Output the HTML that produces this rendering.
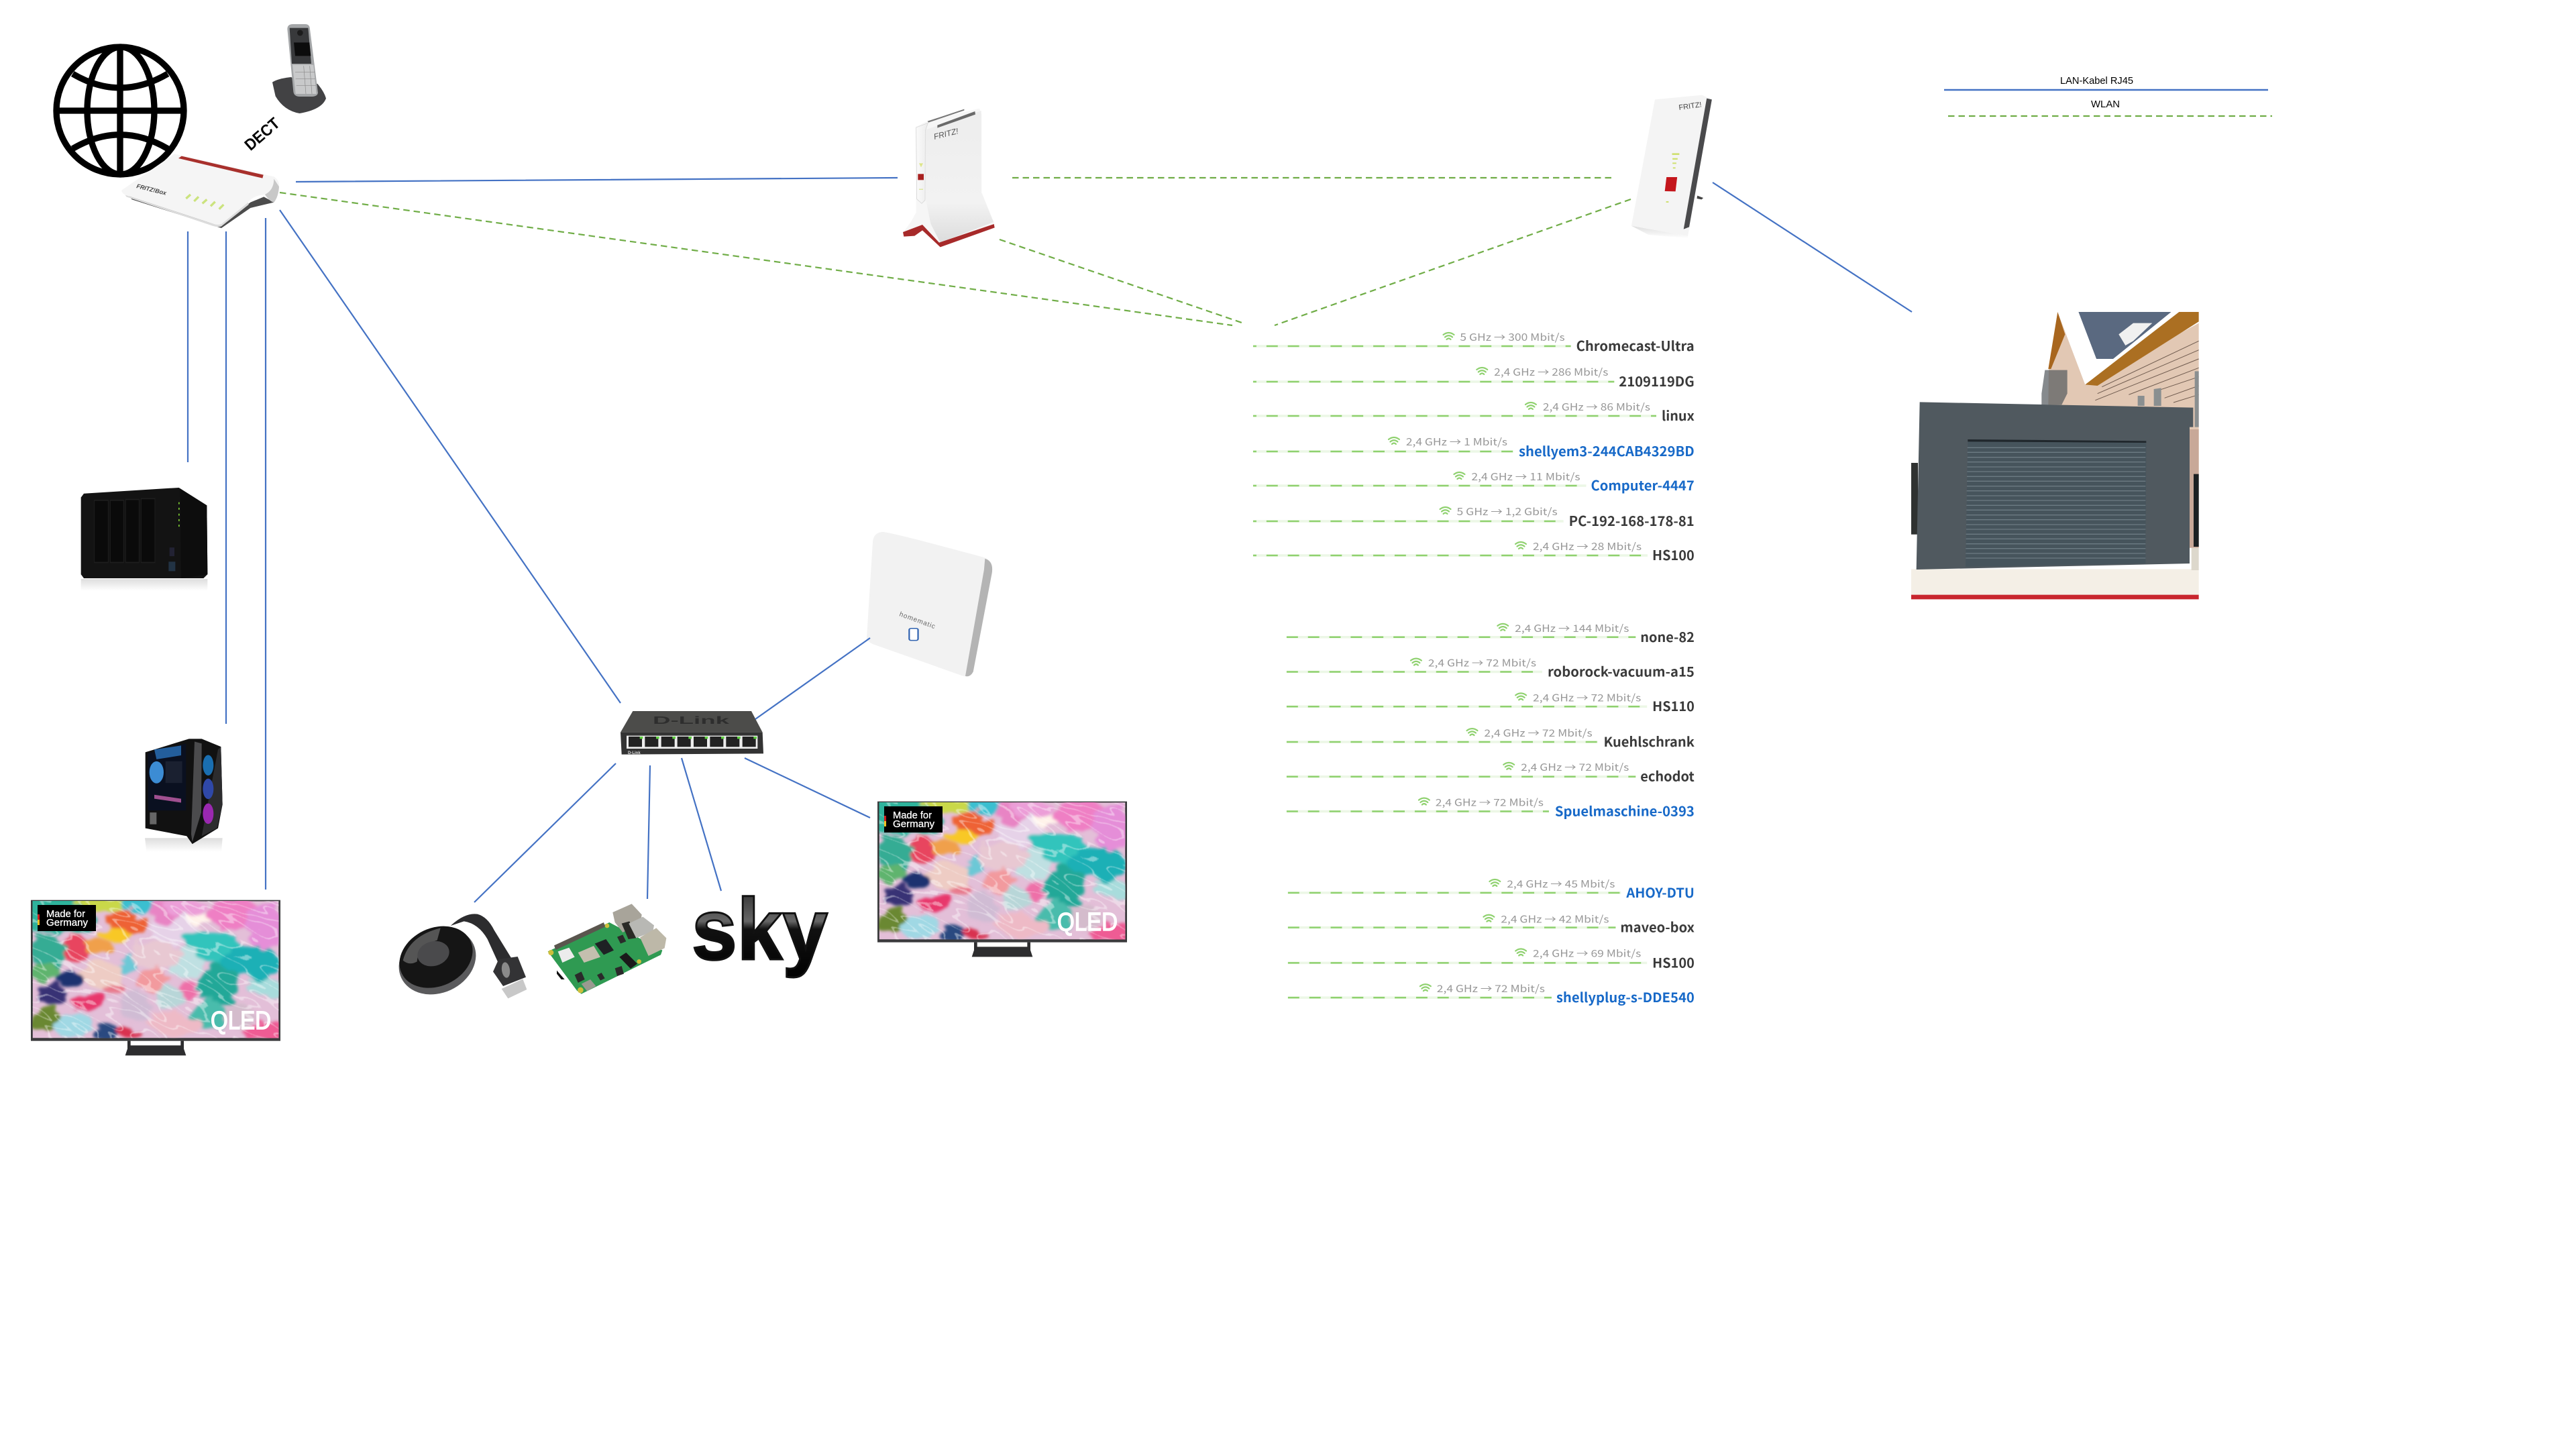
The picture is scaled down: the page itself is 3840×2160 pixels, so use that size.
<!DOCTYPE html>
<html lang="de"><head><meta charset="utf-8"><title>Netzwerk</title>
<style>
html,body{margin:0;padding:0;background:#fff}
svg{display:block}
.n{font-family:"Noto Sans CJK SC","Liberation Sans",sans-serif;font-size:20px;font-weight:700;fill:#3a3a3a}
.b{fill:#1769c8}
.l{font-family:"Noto Sans CJK SC","Liberation Sans",sans-serif;font-size:15px;fill:#989898}
.g1,.g2{fill:none;stroke:#8fd16f;stroke-width:2.5;stroke-dasharray:17 15}
.g1{stroke-dashoffset:12}
.p{stroke:#ecf7e6;stroke-width:3.5;fill:none}
.bl{stroke:#4472c4;stroke-width:2.2;fill:none}
.gr{stroke:#70ad47;stroke-width:2.2;fill:none;stroke-dasharray:9.5 6}
.w{fill:none;stroke:#8fd16f;stroke-width:2.2;stroke-linecap:round}
.s{font-family:"Liberation Sans",sans-serif}
</style></head><body>
<svg xmlns="http://www.w3.org/2000/svg" width="3840" height="2160" viewBox="0 0 3840 2160">
<defs>
<g id="w"><path class="w" d="M-8,-3Q0,-9 8,-3M-5.5,0.5Q0,-4 5.5,0.5M-3,4Q0,1 3,4"/></g>
<filter id="mar" x="-5%" y="-5%" width="110%" height="110%">
<feTurbulence type="fractalNoise" baseFrequency="0.012 0.022" numOctaves="2" seed="7" result="t"/>
<feDisplacementMap in="SourceGraphic" in2="t" scale="80" xChannelSelector="R" yChannelSelector="G"/>
<feGaussianBlur stdDeviation="6"/>
</filter>
<filter id="rip" x="0" y="0" width="100%" height="100%" color-interpolation-filters="sRGB">
<feTurbulence type="fractalNoise" baseFrequency="0.004 0.014" numOctaves="2" seed="11"/>
<feColorMatrix type="matrix" values="0 0 0 0 1  0 0 0 0 1  0 0 0 0 1  1 0 0 0 0"/>
<feComponentTransfer><feFuncA type="discrete" tableValues="0 0 0 0 0 0 0 0 0 0 .4 0 0 0 0 0 0 .4 0 0 0 0 0 0 .4 0 0 0 0 0 0 0"/></feComponentTransfer>
<feGaussianBlur stdDeviation="1.2"/>
</filter>
<clipPath id="tvc"><rect x="8" y="10" width="1100" height="612"/></clipPath>
<linearGradient id="skyg" x1="0" y1="0" x2="0" y2="1"><stop offset="0" stop-color="#222"/><stop offset=".42" stop-color="#666"/><stop offset=".5" stop-color="#111"/><stop offset="1" stop-color="#000"/></linearGradient>
<linearGradient id="rp" x1="0" y1="0" x2="0" y2="1"><stop offset="0" stop-color="#ededed"/><stop offset=".7" stop-color="#f2f2f2"/><stop offset="1" stop-color="#dcdcdc"/></linearGradient>
<linearGradient id="rt" x1="0" y1="0" x2="1" y2="0"><stop offset="0" stop-color="#fafafa"/><stop offset="1" stop-color="#ececec"/></linearGradient>
<linearGradient id="sh" x1="0" y1="0" x2="0" y2="1"><stop offset="0" stop-color="#ddd"/><stop offset="1" stop-color="#fff"/></linearGradient>
<g id="tv">
<rect x="0" y="5" width="1116" height="630" fill="#3a3a3c"/>
<path d="M432,635H446V655H670V635H684V670L694,700H422L432,670Z" fill="#2d2d2f"/>
<g clip-path="url(#tvc)">
<rect x="8" y="10" width="1100" height="612" fill="#e3bfd8"/>
<g filter="url(#mar)">
<rect x="-20" y="-20" width="300" height="170" fill="#2fb39c"/>
<ellipse cx="330" cy="20" rx="130" ry="35" fill="#c9d84a"/>
<ellipse cx="480" cy="25" rx="80" ry="40" fill="#3bbfd0"/>
<ellipse cx="430" cy="110" rx="95" ry="50" fill="#ee6236" transform="rotate(15 430 110)"/>
<ellipse cx="385" cy="160" rx="75" ry="26" fill="#f8c828"/>
<ellipse cx="640" cy="130" rx="110" ry="70" fill="#e6d2e8"/>
<ellipse cx="600" cy="60" rx="70" ry="45" fill="#e884c4"/>
<ellipse cx="750" cy="90" rx="50" ry="45" fill="#fff3ea"/>
<ellipse cx="900" cy="70" rx="130" ry="70" fill="#ef7fc4"/>
<ellipse cx="1050" cy="120" rx="90" ry="100" fill="#e58ed8"/>
<ellipse cx="690" cy="40" rx="80" ry="30" fill="#ec9ed8"/>
<ellipse cx="880" cy="250" rx="210" ry="75" fill="#30c4bc" transform="rotate(25 880 250)"/>
<ellipse cx="980" cy="280" rx="130" ry="75" fill="#1cb0b6"/>
<ellipse cx="840" cy="390" rx="95" ry="90" fill="#24a898"/>
<ellipse cx="1050" cy="400" rx="70" ry="50" fill="#a8dcdc"/>
<ellipse cx="700" cy="290" rx="70" ry="70" fill="#bfe0e2"/>
<ellipse cx="560" cy="250" rx="110" ry="60" fill="#e8c8d2"/>
<ellipse cx="545" cy="360" rx="60" ry="55" fill="#f29a9e"/>
<ellipse cx="430" cy="310" rx="55" ry="40" fill="#6cc8d6"/>
<ellipse cx="700" cy="420" rx="40" ry="45" fill="#ee70a8"/>
<ellipse cx="620" cy="440" rx="60" ry="50" fill="#b8d6d8"/>
<ellipse cx="800" cy="520" rx="80" ry="65" fill="#48bcac"/>
<ellipse cx="1050" cy="590" rx="90" ry="40" fill="#ee5c94"/>
<ellipse cx="640" cy="560" rx="120" ry="55" fill="#eebac6"/>
<ellipse cx="470" cy="480" rx="70" ry="70" fill="#d0bcd4"/>
<ellipse cx="320" cy="340" rx="90" ry="60" fill="#eeccc4"/>
<ellipse cx="370" cy="400" rx="50" ry="30" fill="#e87a8c"/>
<ellipse cx="250" cy="460" rx="70" ry="40" fill="#e8386c"/>
<ellipse cx="200" cy="225" rx="65" ry="60" fill="#e8445e"/>
<ellipse cx="300" cy="210" rx="70" ry="30" fill="#f0a04c"/>
<ellipse cx="80" cy="230" rx="80" ry="70" fill="#34ac94"/>
<ellipse cx="60" cy="320" rx="60" ry="40" fill="#5fb46e"/>
<ellipse cx="170" cy="355" rx="65" ry="32" fill="#1e3270"/>
<ellipse cx="95" cy="430" rx="65" ry="55" fill="#383074"/>
<ellipse cx="70" cy="540" rx="65" ry="50" fill="#6a8830"/>
<ellipse cx="200" cy="560" rx="90" ry="50" fill="#a0d8e4"/>
<ellipse cx="350" cy="600" rx="50" ry="30" fill="#2a4a80"/>
<ellipse cx="430" cy="600" rx="50" ry="28" fill="#d83050"/>
<ellipse cx="930" cy="520" rx="70" ry="50" fill="#d4bccc"/>
</g>
<g transform="rotate(28 558 316)">
<rect x="-200" y="-400" width="1500" height="1400" filter="url(#rip)"/>
</g>
</g>
</g>
</defs>

<rect width="3840" height="2160" fill="#fff"/>

<!-- globe -->
<g transform="scale(.33333)" fill="none" stroke="#000" stroke-width="28">
<circle cx="537" cy="495" r="285"/>
<path d="M255,495H820M537,210V780"/>
<ellipse cx="540" cy="495" rx="150" ry="285"/>
<path d="M325,330Q537,455 750,330M325,665Q537,540 750,665"/>
</g>

<!-- phone -->
<g transform="scale(.33333)">
<path d="M1218,368Q1240,352 1300,345L1420,375Q1450,410 1458,440Q1440,490 1340,507Q1270,495 1232,430Z" fill="#424244"/>
<path d="M1285,130Q1285,108 1310,108H1365Q1385,108 1386,130L1422,415Q1420,432 1390,432H1340Q1315,432 1312,410Z" fill="#a4a6a8"/>
<path d="M1295,125H1378L1392,285H1305Z" fill="#38393b"/>
<path d="M1314,190H1384L1390,250H1320Z" fill="#0c0c0c"/>
<path d="M1308,290H1402L1415,420H1322Z" fill="#c8c9ca"/>
<g stroke="#8a8a8a" stroke-width="2" fill="none"><path d="M1320,322H1408M1322,352H1410M1325,382H1412M1358,295L1368,420M1385,295L1395,420"/></g>
<circle cx="1342" cy="147" r="13" fill="#1c1c1c"/>
</g>
<text class="s" x="0" y="0" font-size="24" font-weight="700" fill="#000" text-anchor="middle" textLength="60" lengthAdjust="spacingAndGlyphs" transform="translate(396,206) rotate(-41)">DECT</text>

<!-- router -->
<g transform="scale(.33333)">
<path d="M570,868L985,1012L1120,905L1180,880L1225,905L1120,930L990,1020L590,892Z" fill="#4c4c4c"/>
<path d="M545,850L780,688L1225,790Q1250,805 1248,835Q1245,880 1225,905Q1205,900 1185,870Q1130,875 1110,905L990,1002Q975,1008 950,1000L560,872Q540,860 545,850Z" fill="#f5f5f5"/>
<path d="M1185,870Q1205,900 1225,905Q1245,880 1248,835Q1235,815 1225,800Q1225,850 1185,870Z" fill="#c8c8c8"/>
<path d="M560,872L950,1000Q975,1008 990,1002L1110,905L1112,915L990,1012Q975,1018 950,1010L565,880Z" fill="#dcdcdc"/>
<path d="M798,708L812,698L1178,782L1174,797Z" fill="#a8302c"/>
<g stroke="#cbe37e" stroke-width="10" fill="none"><path d="M832,888L852,870M868,900L888,880M905,910L925,892M942,922L962,902M980,935L1000,915"/></g>
</g>
<text class="s" x="203" y="280" font-size="9" font-style="italic" font-weight="700" fill="#444" transform="rotate(14 203 280)">FRITZ!Box</text>

<!-- repeater 1 -->
<g transform="translate(1300,130) scale(.33333)">
<path d="M140,648L175,600L197,560L195,178L250,150L480,95L490,120V470L545,605V620L300,708L225,625Z" fill="#f6f6f6"/>
<path d="M240,190L488,105V470L543,603L305,695L262,610L240,500Z" fill="url(#rp)"/>
<path d="M197,180L250,160L238,195L237,505L222,520L200,500Z" fill="url(#rt)" stroke="#d0d0d0" stroke-width="2"/>
<path d="M138,648L225,615L300,695L545,612L548,628L305,715L225,640L190,665L142,668Z" fill="#a72a2a"/>
<path d="M248,152L412,98V104L252,158Z" fill="#777"/>
<path d="M292,170L460,108L462,122L292,182Z" fill="#6a6a6a"/>
<rect x="205" y="388" width="26" height="27" fill="#a8201f"/>
<path d="M210,340H228L219,358Z" fill="#dde58a"/>
<rect x="210" y="455" width="18" height="3" fill="#cfe070"/>
</g>
<text class="s" x="1393" y="208" font-size="12" font-style="italic" fill="#555" transform="rotate(-14 1393 208)">FRITZ!</text>

<!-- repeater 2 -->
<g transform="translate(2400,120) scale(.638,.33333)">
<path d="M50,650L182,695V705L90,690Z" fill="url(#sh)"/>
<path d="M105,85L215,65L238,85L182,695L50,650Z" fill="#f4f4f4"/>
<path d="M226,80L238,85L185,655L172,665Z" fill="#4a4a4c"/>
<path d="M132,432L157,432L153,496L128,495Z" fill="#c4161c"/>
<path d="M204,515L218,525L214,532L203,528Z" fill="#444"/>
<g fill="#cfe070"><rect x="145" y="325" width="17" height="8"/><rect x="146" y="347" width="12" height="7"/><rect x="146" y="367" width="9" height="6"/><rect x="147" y="388" width="6" height="6"/><rect x="131" y="540" width="6" height="6"/></g>
</g>
<text class="s" x="2503" y="164" font-size="11" fill="#444" transform="rotate(-8 2503 164)">FRITZ!</text>

<!-- NAS -->
<g transform="translate(30,680) scale(.33333,.5869)">
<path d="M272,312H838V342H272Z" fill="url(#sh)"/>
<path d="M285,95L710,80L835,125L838,300L820,310H285L272,300V105Z" fill="#131313"/>
<path d="M715,82L835,125L838,300L720,310Z" fill="#0d0d0d"/>
<g fill="#0a0a0a" stroke="#1e1e1e" stroke-width="3">
<rect x="332" y="112" width="62" height="158"/><rect x="403" y="112" width="60" height="158"/><rect x="472" y="110" width="60" height="160"/><rect x="541" y="108" width="62" height="162"/></g>
<rect x="668" y="232" width="22" height="22" fill="#223"/>
<rect x="664" y="268" width="30" height="24" fill="#234"/>
<g fill="#7fd034"><rect x="708" y="117" width="5" height="5"/><rect x="708" y="131" width="5" height="5"/><rect x="708" y="146" width="5" height="5"/><rect x="708" y="160" width="5" height="5"/><rect x="708" y="174" width="5" height="5"/></g>
</g>

<!-- PC -->
<g transform="translate(30,680) scale(.33333,.5869)">
<path d="M558,970H905L900,1005H565Z" fill="url(#sh)"/>
<path d="M560,752L755,718H812L898,738L905,885L885,945L770,985L745,965L560,945Z" fill="#111"/>
<path d="M780,725L812,730L810,905L770,980L765,960Z" fill="#4b4b4d"/>
<path d="M885,745L898,738L905,885L880,945L812,965Z" fill="#2c2c2e"/>
<path d="M572,755L742,730V900H572Z" fill="#0a1020"/>
<ellipse cx="610" cy="803" rx="32" ry="28" fill="#3c8cd4"/>
<rect x="650" y="775" width="75" height="55" fill="#1a2030"/>
<path d="M600,745L720,735V760L610,770Z" fill="#235e9c"/>
<ellipse cx="841" cy="785" rx="24" ry="26" fill="#1a6eb0"/>
<ellipse cx="841" cy="845" rx="24" ry="26" fill="#2f48a8"/>
<ellipse cx="841" cy="908" rx="24" ry="26" fill="#9a28b0"/>
<rect x="580" y="905" width="30" height="30" fill="#666"/>
<path d="M600,860L720,870V880L600,870Z" fill="#a05090"/>
</g>

<!-- TV 1 / TV 2 -->
<use href="#tv" transform="translate(46,1340) scale(.33333)"/>
<use href="#tv" transform="translate(1308,1193) scale(.33333)"/>
<g>
<rect x="56" y="1349" width="87" height="39" fill="#000"/><rect x="56" y="1363" width="3" height="8" fill="#d01c1c"/><rect x="56" y="1371" width="3" height="8" fill="#f0c020"/>
<text class="s" x="69" y="1367" font-size="15" stroke="#fff" stroke-width=".3" fill="#fff" textLength="58" lengthAdjust="spacingAndGlyphs">Made for</text>
<text class="s" x="69" y="1380" font-size="15" stroke="#fff" stroke-width=".3" fill="#fff" textLength="62" lengthAdjust="spacingAndGlyphs">Germany</text>
<text class="s" x="314" y="1534" font-size="38" fill="#fff" stroke="#fff" stroke-width="1.4" textLength="90" lengthAdjust="spacingAndGlyphs">QLED</text>
<rect x="1318" y="1202" width="87" height="39" fill="#000"/><rect x="1318" y="1216" width="3" height="8" fill="#d01c1c"/><rect x="1318" y="1224" width="3" height="8" fill="#f0c020"/>
<text class="s" x="1331" y="1220" font-size="15" stroke="#fff" stroke-width=".3" fill="#fff" textLength="58" lengthAdjust="spacingAndGlyphs">Made for</text>
<text class="s" x="1331" y="1233" font-size="15" stroke="#fff" stroke-width=".3" fill="#fff" textLength="62" lengthAdjust="spacingAndGlyphs">Germany</text>
<text class="s" x="1576" y="1387" font-size="38" fill="#fff" stroke="#fff" stroke-width="1.4" textLength="90" lengthAdjust="spacingAndGlyphs">QLED</text>
</g>

<!-- switch -->
<g transform="translate(910,1040) scale(.33333)">
<path d="M100,60H630L680,155H45Z" fill="#4c4c4a"/>
<path d="M45,155H680L684,250L50,254Z" fill="#333"/>
<rect x="72" y="170" width="586" height="58" fill="#ededed"/>
<g fill="#222"><rect x="81" y="174" width="60" height="46"/><rect x="154" y="174" width="60" height="46"/><rect x="227" y="174" width="60" height="46"/><rect x="299" y="174" width="60" height="46"/><rect x="372" y="174" width="60" height="46"/><rect x="445" y="174" width="60" height="46"/><rect x="517" y="174" width="60" height="46"/><rect x="590" y="174" width="60" height="46"/></g>
<g fill="#5fd040"><rect x="131" y="174" width="14" height="10"/><rect x="204" y="174" width="14" height="10"/><rect x="277" y="174" width="14" height="10"/><rect x="349" y="174" width="14" height="10"/><rect x="422" y="174" width="14" height="10"/><rect x="495" y="174" width="14" height="10"/><rect x="567" y="174" width="14" height="10"/><rect x="640" y="174" width="14" height="10"/></g>
</g>
<text class="s" x="1030" y="1079" font-size="16" font-weight="700" fill="#2e2e2e" textLength="114" text-anchor="middle" lengthAdjust="spacingAndGlyphs">D-Link</text>
<text class="s" x="936" y="1124" font-size="6" font-weight="700" fill="#ddd">D-Link</text>

<!-- homematic -->
<g transform="translate(560,780) scale(.7337,.4975)">
<path d="M1030,26Q1050,28 1235,102Q1256,112 1252,150L1214,445Q1206,465 1190,456L1010,362Q995,352 998,335L1010,55Q1012,28 1030,26Z" fill="#f2f2f2"/>
<path d="M1238,106Q1256,114 1252,150L1214,445Q1208,462 1198,458L1236,140Z" fill="#b4b4b4"/>
<rect x="1084" y="315" width="18" height="36" rx="4" fill="#fff" stroke="#2f62b0" stroke-width="3"/>
</g>
<text class="s" x="1340" y="918" font-size="10" fill="#666" textLength="56" transform="rotate(20 1340 918)">homematic</text>

<!-- chromecast / raspi -->
<g transform="translate(580,1320) scale(.33333)">
<path d="M275,180Q340,120 395,128Q440,140 470,200L550,330L490,350L440,240Q400,170 335,160Z" fill="#2c2c2e"/>
<path d="M465,385L490,330L575,318L612,410L510,450Z" fill="#333335"/>
<ellipse cx="522" cy="378" rx="18" ry="35" fill="#8a8a8a" transform="rotate(-8 522 378)"/>
<path d="M503,462L598,418L616,465L532,505Z" fill="#c8c8c8"/>
<ellipse cx="216" cy="338" rx="178" ry="142" fill="#5a5a5c" transform="rotate(-25 216 338)"/>
<ellipse cx="210" cy="320" rx="170" ry="130" fill="#151515" transform="rotate(-25 210 320)"/>
<path d="M62,335Q90,225 230,190L215,245Q130,270 125,340Q90,360 62,335Z" fill="#555"/>
<ellipse cx="198" cy="305" rx="72" ry="55" fill="#4a4a4c" transform="rotate(-15 198 305)"/>
<path d="M710,295L985,165L1222,290L1215,310L860,485L840,470Z" fill="#2f9a52"/>
<path d="M738,268L960,165L966,185L745,288Z" fill="#5a564e"/>
<path d="M1000,120L1085,82L1130,130L1125,165L1045,210L1010,165Z" fill="#a8a49a"/>
<path d="M1040,170L1075,160L1105,235L1070,240Z" fill="#2a2a26"/>
<path d="M1072,170L1135,140L1185,178L1180,205L1105,235Z" fill="#b8b8b4"/>
<path d="M1122,232L1195,190L1240,235L1232,280L1160,315Z" fill="#bdb8a8"/>
<path d="M845,300L915,270L945,320L872,345Z" fill="#c4bfae"/>
<path d="M920,260L970,240L1005,290L960,310Z" fill="#1e2224"/>
<path d="M755,295L805,278L830,320L775,345Z" fill="#ececec"/>
<path d="M1030,320L1060,300L1110,350L1080,372Z" fill="#1a1a1a"/>
<path d="M860,440L900,420L925,450L885,472Z" fill="#9a9a90"/>
<path d="M750,380L785,420L770,420L750,395Z" fill="#111"/>
<path d="M1020,230L1045,220L1060,250L1035,260ZM930,400L950,390L965,415L945,425ZM1010,370L1040,360L1050,395L1020,405ZM830,400L860,385L875,420L845,435Z" fill="#2a2a2a"/>
<circle cx="724" cy="300" r="12" fill="#cdbf3c"/><circle cx="856" cy="468" r="13" fill="#cdbf3c"/><circle cx="1118" cy="340" r="10" fill="#cdbf3c"/><circle cx="975" cy="180" r="10" fill="#cdbf3c"/>
</g>

<!-- sky -->
<text x="1031" y="1430" font-family="'Liberation Sans',sans-serif" font-size="130" font-weight="700" fill="url(#skyg)" stroke="#111" stroke-width="3" textLength="203" lengthAdjust="spacingAndGlyphs">sky</text>

<!-- garage -->
<g transform="translate(2840,440) scale(.33333)">
<rect x="27" y="75" width="1286" height="1285" fill="#fff"/>
<path d="M640,500L642,330L682,75L805,400L1313,125V1130H1080V500Z" fill="#e2c8b4"/>
<path d="M682,75L715,175L652,330L640,330Z" fill="#a8661e"/>
<path d="M775,75H1190L930,285H855Z" fill="#5a6980"/>
<path d="M682,75H775L855,285H935L1190,75H1225L805,400Z" fill="#fff"/>
<path d="M955,175L1020,125H1105L1020,205L985,225Z" fill="#f0f0f0"/>
<path d="M1225,75H1313V118L860,405L805,400Z" fill="#ab6f22"/>
<g stroke="#6e5a4e" stroke-width="3" fill="none"><path d="M880,410L1313,205M860,440L1313,245M850,470L1313,285M1000,445L1313,325M1120,430L1313,365M1160,460L1313,405M1200,480L1313,445"/></g>
<path d="M1295,340H1313V590H1295ZM1112,420L1145,415V495H1112ZM1040,450H1070V495H1040Z" fill="#8a8f90"/>
<path d="M610,440L625,335H725V440L700,490H610Z" fill="#53585c" opacity=".7"/>
<rect x="1272" y="600" width="41" height="530" fill="#c8a898"/>
<path d="M1290,800H1313V1125H1290Z" fill="#1b2022"/>
<rect x="27" y="750" width="30" height="320" fill="#2f3231"/>
<path d="M27,1225H1313V1340H27Z" fill="#f4efe6"/>
<path d="M1280,1130H1313V1230H1280Z" fill="#ddd8cc"/>
<path d="M65,478L1288,503V590H1272V1200L50,1227Z" fill="#50595f"/>
<path d="M280,645L1078,652L1075,1200L270,1215Z" fill="#46545c"/>
<g stroke="#73828a" stroke-width="4" opacity=".85">
<path d="M278,682H1075M278,703H1075M278,725H1075M278,746H1075M277,768H1075M277,789H1075M276,811H1075M276,832H1075M276,854H1075M275,875H1075M275,897H1075M275,918H1075M274,940H1075M274,961H1075M274,983H1075M273,1004H1075M273,1026H1075M273,1047H1075M272,1069H1075M272,1090H1075M272,1112H1075M271,1133H1075M271,1155H1075M271,1176H1075"/></g>
<path d="M280,645L1078,652V660L280,655Z" fill="#20272c"/>
<path d="M27,1340H1313V1360H27Z" fill="#c8252d"/>
</g>

<!-- connectors -->
<path class="bl" d="M441,271L1338,265M280,345V689M337,345V1079M396,325V1326M417,313L925,1048M1126,1072L1297,951M918,1138L707,1345M969,1141L965,1340M1016,1130L1075,1328M1110,1130L1297,1219M2553,272L2850,465"/>
<path class="gr" d="M417,287L1837,485M1509,265H2402M1490,357L1854,482M2431,297L1900,485"/>

<!-- legend -->
<text class="s" x="3071" y="125" font-size="15" fill="#000" textLength="109" lengthAdjust="spacingAndGlyphs">LAN-Kabel RJ45</text>
<path d="M2898,134H3381" stroke="#4472c4" stroke-width="2.6"/>
<text class="s" x="3117" y="160" font-size="15" fill="#000" textLength="43" lengthAdjust="spacingAndGlyphs">WLAN</text>
<path d="M2904,173H3387" class="gr"/>

<!-- list group 1 -->
<g transform="translate(1860,0) scale(.9951,1) translate(-1860,0)">
<path class="p" d="M1868,516H2344M1868,569H2409M1868,620H2472M1868,673H2258M1868,724H2367M1868,777H2333M1868,828H2459"/>
<path class="g1" d="M1868,516H2344M1868,569H2409M1868,620H2472M1868,673H2258M1868,724H2367M1868,777H2333M1868,828H2459"/>
<use href="#w" x="2161" y="502"/><use href="#w" x="2211" y="554"/><use href="#w" x="2284" y="606"/><use href="#w" x="2079" y="658"/><use href="#w" x="2177" y="710"/><use href="#w" x="2156" y="762"/><use href="#w" x="2269" y="814"/>
<text class="l" x="2178" y="508" textLength="157" lengthAdjust="spacingAndGlyphs">5 GHz → 300 Mbit/s</text>
<text class="l" x="2229" y="560" textLength="171" lengthAdjust="spacingAndGlyphs">2,4 GHz → 286 Mbit/s</text>
<text class="l" x="2302" y="612" textLength="161" lengthAdjust="spacingAndGlyphs">2,4 GHz → 86 Mbit/s</text>
<text class="l" x="2097" y="664" textLength="152" lengthAdjust="spacingAndGlyphs">2,4 GHz → 1 Mbit/s</text>
<text class="l" x="2195" y="716" textLength="163" lengthAdjust="spacingAndGlyphs">2,4 GHz → 11 Mbit/s</text>
<text class="l" x="2173" y="768" textLength="151" lengthAdjust="spacingAndGlyphs">5 GHz → 1,2 Gbit/s</text>
<text class="l" x="2287" y="820" textLength="163" lengthAdjust="spacingAndGlyphs">2,4 GHz → 28 Mbit/s</text>
<text class="n" x="2352" y="523" textLength="177" lengthAdjust="spacingAndGlyphs">Chromecast-Ultra</text>
<text class="n" x="2416" y="576" textLength="113" lengthAdjust="spacingAndGlyphs">2109119DG</text>
<text class="n" x="2480" y="627" textLength="49" lengthAdjust="spacingAndGlyphs">linux</text>
<text class="n b" x="2266" y="680" textLength="263" lengthAdjust="spacingAndGlyphs">shellyem3-244CAB4329BD</text>
<text class="n b" x="2374" y="731" textLength="155" lengthAdjust="spacingAndGlyphs">Computer-4447</text>
<text class="n" x="2341" y="784" textLength="188" lengthAdjust="spacingAndGlyphs">PC-192-168-178-81</text>
<text class="n" x="2466" y="835" textLength="63" lengthAdjust="spacingAndGlyphs">HS100</text>
</g>

<!-- list groups 2, 3 -->
<g transform="translate(1900,910) scale(.995,.995) translate(-1900,-910)">
<path class="p" d="M1918,950H2441M1918,1002H2301M1918,1054H2458M1918,1107H2384M1918,1159H2441M1918,1211H2311"/>
<path class="g2" d="M1918,950H2441M1918,1002H2301M1918,1054H2458M1918,1107H2384M1918,1159H2441M1918,1211H2311"/>
<use href="#w" x="2242" y="936"/><use href="#w" x="2112" y="988"/><use href="#w" x="2269" y="1040"/><use href="#w" x="2196" y="1093"/><use href="#w" x="2251" y="1144"/><use href="#w" x="2124" y="1197"/>
<text class="l" x="2260" y="942" textLength="171" lengthAdjust="spacingAndGlyphs">2,4 GHz → 144 Mbit/s</text>
<text class="l" x="2130" y="994" textLength="162" lengthAdjust="spacingAndGlyphs">2,4 GHz → 72 Mbit/s</text>
<text class="l" x="2287" y="1046" textLength="162" lengthAdjust="spacingAndGlyphs">2,4 GHz → 72 Mbit/s</text>
<text class="l" x="2214" y="1099" textLength="162" lengthAdjust="spacingAndGlyphs">2,4 GHz → 72 Mbit/s</text>
<text class="l" x="2269" y="1150" textLength="162" lengthAdjust="spacingAndGlyphs">2,4 GHz → 72 Mbit/s</text>
<text class="l" x="2141" y="1203" textLength="162" lengthAdjust="spacingAndGlyphs">2,4 GHz → 72 Mbit/s</text>
<text class="n" x="2448" y="957" textLength="81" lengthAdjust="spacingAndGlyphs">none-82</text>
<text class="n" x="2309" y="1009" textLength="220" lengthAdjust="spacingAndGlyphs">roborock-vacuum-a15</text>
<text class="n" x="2466" y="1061" textLength="63" lengthAdjust="spacingAndGlyphs">HS110</text>
<text class="n" x="2393" y="1114" textLength="136" lengthAdjust="spacingAndGlyphs">Kuehlschrank</text>
<text class="n" x="2448" y="1166" textLength="81" lengthAdjust="spacingAndGlyphs">echodot</text>
<text class="n b" x="2320" y="1218" textLength="209" lengthAdjust="spacingAndGlyphs">Spuelmaschine-0393</text>

<path class="p" d="M1920,1333H2419M1920,1385H2411M1920,1438H2458M1920,1490H2315"/>
<path class="g2" d="M1920,1333H2419M1920,1385H2411M1920,1438H2458M1920,1490H2315"/>
<use href="#w" x="2230" y="1319"/><use href="#w" x="2221" y="1372"/><use href="#w" x="2269" y="1423"/><use href="#w" x="2126" y="1476"/>
<text class="l" x="2248" y="1325" textLength="162" lengthAdjust="spacingAndGlyphs">2,4 GHz → 45 Mbit/s</text>
<text class="l" x="2239" y="1378" textLength="162" lengthAdjust="spacingAndGlyphs">2,4 GHz → 42 Mbit/s</text>
<text class="l" x="2287" y="1429" textLength="162" lengthAdjust="spacingAndGlyphs">2,4 GHz → 69 Mbit/s</text>
<text class="l" x="2143" y="1482" textLength="162" lengthAdjust="spacingAndGlyphs">2,4 GHz → 72 Mbit/s</text>
<text class="n b" x="2427" y="1340" textLength="102" lengthAdjust="spacingAndGlyphs">AHOY-DTU</text>
<text class="n" x="2418" y="1392" textLength="111" lengthAdjust="spacingAndGlyphs">maveo-box</text>
<text class="n" x="2466" y="1445" textLength="63" lengthAdjust="spacingAndGlyphs">HS100</text>
<text class="n b" x="2322" y="1497" textLength="207" lengthAdjust="spacingAndGlyphs">shellyplug-s-DDE540</text>
</g>
</svg>
</body></html>
